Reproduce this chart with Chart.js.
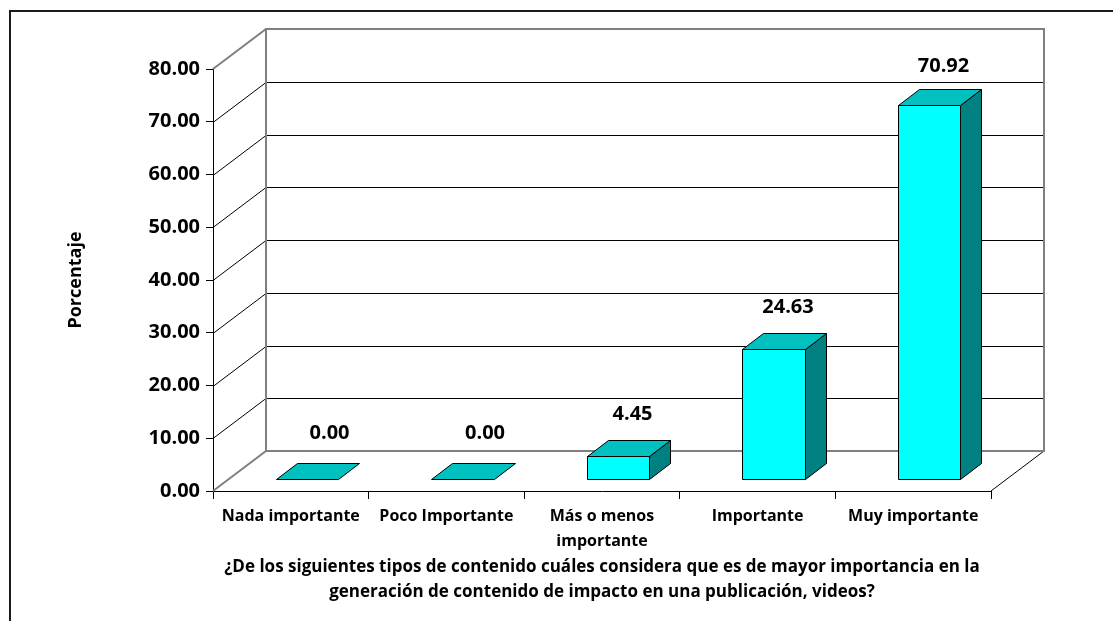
<!DOCTYPE html>
<html>
<head>
<meta charset="utf-8">
<script src="https://cdn.jsdelivr.net/npm/chart.js@4.4.0/dist/chart.umd.min.js"></script>
<style>
  body { margin: 0; background: #ffffff; }
  canvas { display: block; }
</style>
</head>
<body>
<canvas id="myChart" width="1113" height="621"></canvas>
<script>
const categories = ["Nada importante", "Poco Importante", ["Más o menos", "importante"], "Importante", "Muy importante"];
const porcentajes = [0.00, 0.00, 4.45, 24.63, 70.92];
const yMax = 80;
const yStep = 10;
const yTitle = "Porcentaje";
const xTitle = [
  "¿De los siguientes tipos de contenido cuáles considera que es de mayor importancia en la",
  "generación de contenido de impacto en una publicación, videos?"
];

const FONT = "'Open Sans'";

// depth of the plot box, offset of the bars into it and depth of each bar
const WALL = { dx: 53, dy: -40 };
const BAR_OFFSET = { dx: 16, dy: -12 };
const BAR_DEPTH = { dx: 21, dy: -16 };

function line(ctx, pts) {
  ctx.beginPath();
  ctx.moveTo(pts[0][0], pts[0][1]);
  for (let i = 1; i < pts.length; i++) ctx.lineTo(pts[i][0], pts[i][1]);
  ctx.stroke();
}

function poly(ctx, pts, fill) {
  ctx.beginPath();
  ctx.moveTo(pts[0][0], pts[0][1]);
  for (let i = 1; i < pts.length; i++) ctx.lineTo(pts[i][0], pts[i][1]);
  ctx.closePath();
  ctx.fillStyle = fill;
  ctx.fill();
  ctx.stroke();
}

const box3d = {
  id: "box3d",
  beforeDraw(chart) {
    const ctx = chart.ctx;
    ctx.save();
    ctx.fillStyle = "#ffffff";
    ctx.fillRect(0, 0, chart.width, chart.height);
    // outer frame
    ctx.fillStyle = "#1a1a1a";
    ctx.fillRect(9, 10, chart.width - 9, 2);
    ctx.fillRect(9, 10, 2, chart.height - 10);
    ctx.restore();
  },
  beforeDatasetsDraw(chart) {
    const { ctx, chartArea: a, scales: { y } } = chart;
    const L = a.left, R = a.right;
    const top = y.getPixelForValue(yMax), bot = y.getPixelForValue(0);
    ctx.save();
    ctx.lineWidth = 1;
    ctx.strokeStyle = "#000000";
    y.ticks.forEach((t) => {
      if (t.value <= 0 || t.value >= yMax) return;
      const py = Math.round(y.getPixelForValue(t.value)) + 0.5;
      line(ctx, [[L, py], [L + WALL.dx, py + WALL.dy], [R + WALL.dx, py + WALL.dy]]);
    });
    // floor front-right edge
    line(ctx, [[R, bot], [R + WALL.dx, bot + WALL.dy]]);
    // wall and floor edges
    ctx.strokeStyle = "#808080";
    ctx.lineWidth = 2;
    line(ctx, [[L, top], [L + WALL.dx, top + WALL.dy], [R + WALL.dx, top + WALL.dy], [R + WALL.dx, bot + WALL.dy], [L + WALL.dx, bot + WALL.dy], [L, bot]]);
    line(ctx, [[L + WALL.dx, top + WALL.dy], [L + WALL.dx, bot + WALL.dy]]);
    ctx.restore();
  },
  afterDatasetsDraw(chart) {
    const ctx = chart.ctx;
    const meta = chart.getDatasetMeta(0);
    ctx.save();
    ctx.lineWidth = 1;
    ctx.strokeStyle = "#000000";
    ctx.lineJoin = "miter";
    meta.data.forEach((bar, i) => {
      const { x, y, base, width } = bar.getProps(["x", "y", "base", "width"], true);
      const l = Math.round(x - width / 2 + BAR_OFFSET.dx) + 0.5;
      const r = Math.round(x + width / 2 + BAR_OFFSET.dx) + 0.5;
      const t = Math.round(y + BAR_OFFSET.dy) + 0.5;
      const b = Math.round(base + BAR_OFFSET.dy) + 0.5;
      const dx = BAR_DEPTH.dx, dy = BAR_DEPTH.dy;
      if (b - t > 1) {
        poly(ctx, [[l, t], [r, t], [r, b], [l, b]], "#00FFFF");
        poly(ctx, [[r, t], [r + dx, t + dy], [r + dx, b + dy], [r, b]], "#008080");
      }
      poly(ctx, [[l, t], [l + dx, t + dy], [r + dx, t + dy], [r, t]], "#00C0C0");

      // value label above the box
      ctx.fillStyle = "#000000";
      ctx.font = "bold 20px " + FONT;
      ctx.textAlign = "center";
      ctx.textBaseline = "middle";
      const shift = porcentajes[i] === 0 ? 22 : 14;
      const lift = porcentajes[i] === 0 ? 46 : (porcentajes[i] > 50 ? 39 : 42);
      ctx.fillText(porcentajes[i].toFixed(2), (l + r) / 2 + shift, t - lift);
    });
    ctx.restore();
  }
};

const chart = new Chart(document.getElementById("myChart").getContext("2d"), {
  type: "bar",
  data: {
    labels: categories,
    datasets: [
      {
        label: yTitle,
        data: porcentajes,
        backgroundColor: "rgba(0,0,0,0)",
        borderWidth: 0,
        barPercentage: 0.4,
        categoryPercentage: 1.0,
      },
    ],
  },
  options: {
    responsive: false,
    animation: false,
    layout: { padding: { left: 0, top: 69, right: 122, bottom: 0 } },
    plugins: {
      legend: { display: false },
      tooltip: { enabled: false },
    },
    scales: {
      x: {
        offset: true,
        grid: { drawOnChartArea: false, drawTicks: true, tickLength: 8, color: "#000000", offset: true },
        border: { display: true, color: "#000000", width: 1 },
        ticks: {
          color: "#000000",
          padding: 5,
          maxRotation: 0,
          autoSkip: false,
          font: { family: FONT, weight: "bold", size: 16, lineHeight: "25px" },
        },
        title: {
          display: true,
          text: xTitle,
          color: "#000000",
          padding: { top: 4, bottom: 16.5 },
          font: { family: FONT, weight: "bold", size: 17, lineHeight: "25px" },
        },
        afterFit(s) { s.height = 130; },
      },
      y: {
        min: 0,
        max: yMax,
        ticks: {
          stepSize: yStep,
          color: "#000000",
          padding: 6,
          font: { family: FONT, weight: "bold", size: 20 },
          callback: (v) => Number(v).toFixed(2),
        },
        grid: { drawOnChartArea: false, drawTicks: true, tickLength: 7, color: "#000000" },
        border: { display: true, color: "#000000", width: 1 },
        title: {
          display: true,
          text: yTitle,
          color: "#000000",
          padding: { top: 65, bottom: 0 },
          font: { family: FONT, weight: "bold", size: 18, lineHeight: 1.2 },
        },
        afterFit(s) { s.width = 213; },
      },
    },
  },
  plugins: [box3d],
});
</script>
</body>
</html>
